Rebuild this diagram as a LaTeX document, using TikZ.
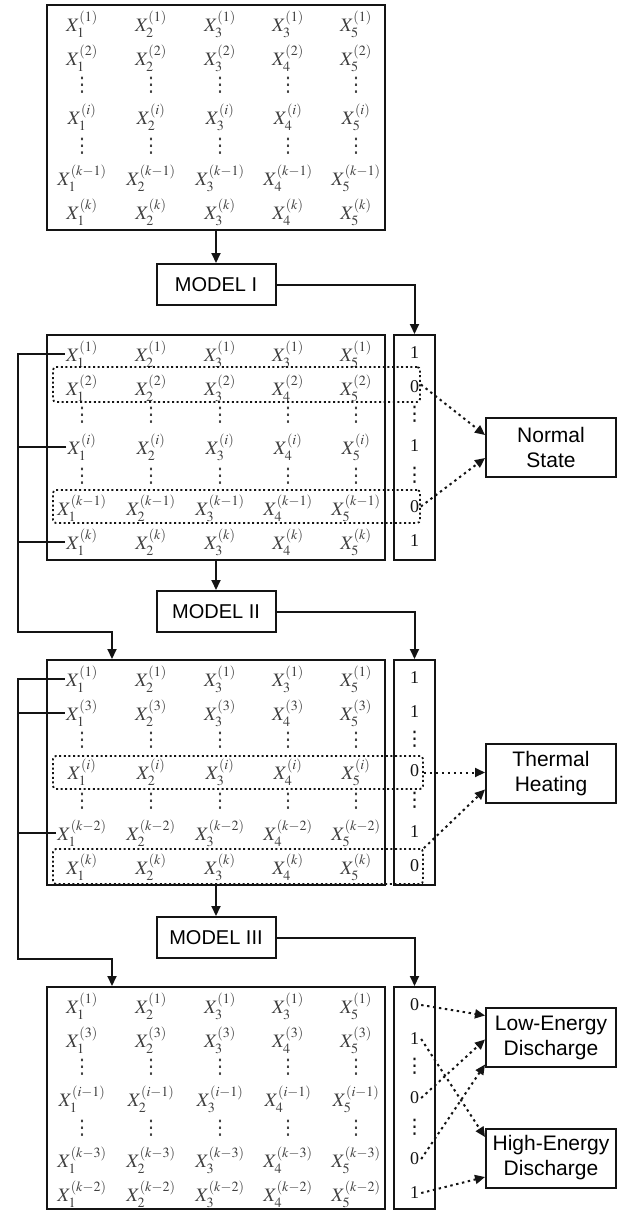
\documentclass[tikz,border=0pt]{standalone}
\usepackage{mathptmx}
\usepackage{fontspec}
\setmainfont{Liberation Serif}
\setsansfont{Liberation Sans}
\newfontfamily\dotfont{DejaVu Sans}
\usetikzlibrary{arrows.meta,positioning,calc}
\definecolor{ink}{HTML}{141414}
\definecolor{entry}{HTML}{404040}
\newcommand{\gapdots}{{\dotfont\fontsize{20}{22}\selectfont ⋮}}
\tikzset{frame/.style={draw=ink,line width=2pt,minimum width=338pt,inner sep=0pt},
  model/.style={draw=ink,line width=2pt,minimum width=119pt,minimum height=41pt,
  inner sep=0pt,font=\sffamily\fontsize{20}{22}\selectfont},
  outcome/.style={draw=ink,line width=2pt,minimum width=130pt,minimum height=59pt,
  inner sep=0pt,align=center,font=\sffamily\fontsize{21}{25}\selectfont},
  cell/.style={text=entry,inner sep=1pt,font=\fontsize{19}{21}\selectfont},
  bit/.style={text=ink,inner sep=2pt,font=\fontsize{18}{20}\selectfont},
  rowsel/.style={draw=ink,line width=1.8pt,dash pattern=on 2pt off 2.6pt,
  rounded corners=3pt,inner sep=0pt},
  flow/.style={-{Triangle[length=10pt,width=9pt]},line width=2pt,draw=ink},
  wire/.style={line width=2pt,draw=ink},
  pick/.style={-{Triangle[length=10pt,width=9pt]},line width=2pt,draw=ink,
  dash pattern=on 2.4pt off 3.6pt}}

\begin{document}
\begin{tikzpicture}[x=1pt,y=-1pt]
\useasboundingbox (0,0) rectangle (620,1211);
% data blocks and label columns
\node[frame,minimum height=225pt] (m1) at (216,117.5) {};
\node[frame,minimum height=225pt] (m2) at (216,447.5) {};
\node[frame,minimum height=225pt] (m3) at (216,772.5) {};
\node[frame,minimum height=222pt] (m4) at (216,1098) {};
\node[frame,minimum width=41pt,minimum height=225pt,right=7pt of m2] (l2) {};
\node[frame,minimum width=41pt,minimum height=225pt,right=7pt of m3] (l3) {};
\node[frame,minimum width=41pt,minimum height=222pt,right=7pt of m4] (l4) {};
\node[model,below=32pt of m1] (mod1) {MODEL I};
\node[model,below=29pt of m2] (mod2) {MODEL II};
\node[model,below=30pt of m3] (mod3) {MODEL III};
% samples
\foreach \m/\tp/\sa/\sb/\sc/\sd/\se in {1/5/1/2/i/k-1/k,2/335/1/2/i/k-1/k,
  3/660/1/3/i/k-2/k,4/987/1/3/i-1/k-3/k-2}{
  \foreach \rw/\dy/\sp in {1/19/\sa,2/53/\sb,4/112/\sc,6/173/\sd,7/207/\se}
    \foreach \cl/\cx in {1/82,2/151,3/220,4/288,5/356}
      \node[cell] (m\m r\rw c\cl) at (\cx,\tp+\dy)
        {$X_{\ifnum\rw\cl=14 3\else\cl\fi}^{(\sp)}$};
  \foreach \dy in {80,141}
    \foreach \cx in {82,151,220,288,356}
      \node[cell] (m\m d\dy c\cx) at (\cx,\tp+\dy) {\gapdots};
}
\foreach \m/\va/\vb/\vc/\vd/\ve in {2/1/0/1/0/1,3/1/1/0/1/0,4/0/1/0/0/1}{
  \foreach \rw/\dy/\v in {1/19/\va,2/53/\vb,4/112/\vc,6/173/\vd,7/207/\ve}
    \node[bit] (v\m-\rw) at ($(l\m.north)+(0,\dy)$) {\v};
  \foreach \dy in {80,141}
    \node[bit] (v\m-d\dy) at ($(l\m.north)+(0,\dy)$) {\gapdots};
}
% selected rows
\node[rowsel,minimum width=367pt,minimum height=35pt] (s2a) at (236.5,384.5) {};
\node[rowsel,minimum width=367pt,minimum height=33pt] (s2b) at (236.5,506.5) {};
\node[rowsel,minimum width=370pt,minimum height=33pt] (s3a) at (238,772.5) {};
\node[rowsel,minimum width=370pt,minimum height=35pt] (s3b) at (238,866.5) {};
% fault classes
\node[outcome] (normal) at (551,447) {Normal\\State};
\node[outcome] (thermal) at (551,773.5) {Thermal\\Heating};
\node[outcome] (low) at (551,1037.5) {Low-Energy\\Discharge};
\node[outcome] (high) at (551,1158) {High-Energy\\Discharge};
\coordinate (bus) at (18,0);
\coordinate (in3) at ($(m3.north west)+(66,0)$);
\coordinate (in4) at ($(m4.north west)+(66,0)$);
% model flow
\draw[flow] (m1.south) -- (mod1.north);
\draw[flow] (m2.south) -- (mod2.north);
\draw[flow] (m3.south) -- (mod3.north);
\draw[flow] (mod1.east) -| (l2.north);
\draw[flow] (mod2.east) -| (l3.north);
\draw[flow] (mod3.east) -| (l4.north);
% rows passed on
\draw[wire] (m2r4c1.west) -- (m2r4c1.west -| bus);
\draw[wire] (m2r7c1.west) -- (m2r7c1.west -| bus);
\draw[flow] (m2r1c1.west) -- (m2r1c1.west -| bus) |- ($(in3)+(0,-27)$) -- (in3);
\draw[wire] (m3r2c1.west) -- (m3r2c1.west -| bus);
\draw[wire] (m3r6c1.west) -- (m3r6c1.west -| bus);
\draw[flow] (m3r1c1.west) -- (m3r1c1.west -| bus) |- ($(in4)+(0,-27)$) -- (in4);
% classified rows
\draw[pick] (s2a.east) -- ([yshift=12pt]normal.west);
\draw[pick] (s2b.east) -- ([yshift=-11pt]normal.west);
\draw[pick] (s3a.east) -- (s3a.east -| thermal.west);
\draw[pick] (s3b.north east) -- ([yshift=-16pt]thermal.west);
\draw[pick] (v4-1.east) -- ([yshift=22pt]low.west);
\draw[pick] (v4-2.east) -- ([yshift=21pt]high.west);
\draw[pick] (v4-4.east) -- ([yshift=-2pt]low.west);
\draw[pick] (v4-6.east) -- ([yshift=-27pt]low.west);
\draw[pick] (v4-7.east) -- ([yshift=-19pt]high.west);
\end{tikzpicture}
\end{document}
